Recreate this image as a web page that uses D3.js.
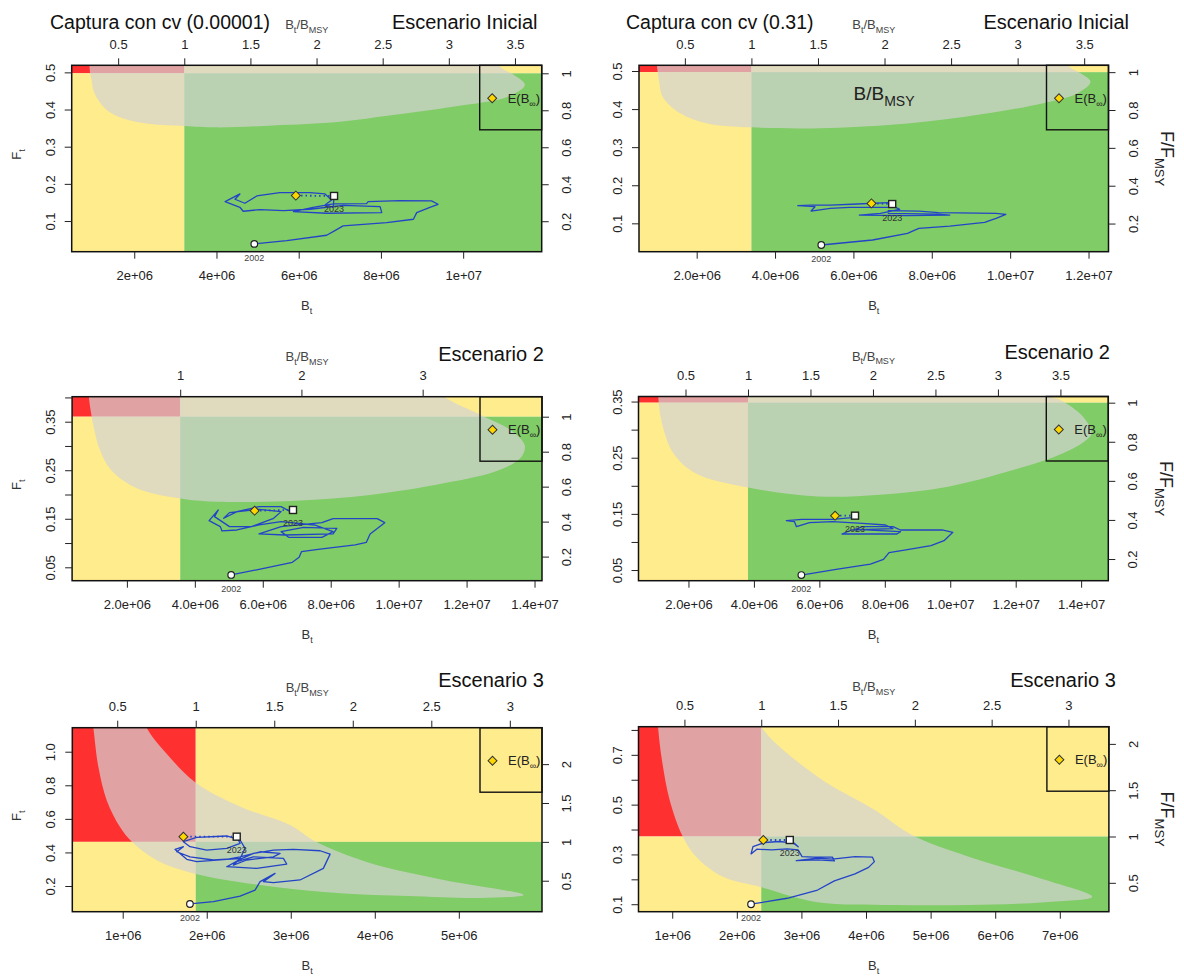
<!DOCTYPE html>
<html>
<head>
<meta charset="utf-8">
<script src="https://cdn.jsdelivr.net/npm/d3@7"></script>
<style>
  body { margin: 0; background: #fff; }
  svg text { font-family: "Liberation Sans", Arial, sans-serif; }
</style>
</head>
<body>
<div id="chart"></div>
<script>
// Reference points per panel (biomass in millions of t)
const bmsy = [3.217, 3.397, 3.569, 3.819, 1.869, 2.378];
const fmsy = [0.4975, 0.497, 0.3603, 0.348, 0.463, 0.372];
const bLims = [[0.479, 11.91], [0.528, 12.51], [0.387, 14.22], [0.473, 14.83], [0.40, 5.99], [0.478, 7.76]];
const fLims = [[0.0175, 0.519], [0.0255, 0.515], [0.0224, 0.4015], [0.031, 0.359], [0.047, 1.143], [0.070, 0.813]];

// Tick values and labels
const bTicks = [[2, 4, 6, 8, 10], [2, 4, 6, 8, 10, 12], [2, 4, 6, 8, 10, 12, 14], [2, 4, 6, 8, 10, 12, 14], [1, 2, 3, 4, 5], [1, 2, 3, 4, 5, 6, 7]];
const bTickLabels = [
  ["2e+06", "4e+06", "6e+06", "8e+06", "1e+07"],
  ["2.0e+06", "4.0e+06", "6.0e+06", "8.0e+06", "1.0e+07", "1.2e+07"],
  ["2.0e+06", "4.0e+06", "6.0e+06", "8.0e+06", "1.0e+07", "1.2e+07", "1.4e+07"],
  ["2.0e+06", "4.0e+06", "6.0e+06", "8.0e+06", "1.0e+07", "1.2e+07", "1.4e+07"],
  ["1e+06", "2e+06", "3e+06", "4e+06", "5e+06"],
  ["1e+06", "2e+06", "3e+06", "4e+06", "5e+06", "6e+06", "7e+06"]
];
const bRatioTicks = [[0.5, 1, 1.5, 2, 2.5, 3, 3.5], [0.5, 1, 1.5, 2, 2.5, 3, 3.5], [1, 2, 3], [0.5, 1, 1.5, 2, 2.5, 3, 3.5], [0.5, 1, 1.5, 2, 2.5, 3], [0.5, 1, 1.5, 2, 2.5, 3]];
const fTicks = [
  [0.1, 0.2, 0.3, 0.4, 0.5],
  [0.1, 0.2, 0.3, 0.4, 0.5],
  [0.05, 0.1, 0.15, 0.2, 0.25, 0.3, 0.35, 0.4],
  [0.05, 0.1, 0.15, 0.2, 0.25, 0.3, 0.35],
  [0.2, 0.4, 0.6, 0.8, 1.0],
  [0.1, 0.2, 0.3, 0.4, 0.5, 0.6, 0.7, 0.8]
];
const fTickLabels = [
  ["0.1", "0.2", "0.3", "0.4", "0.5"],
  ["0.1", "0.2", "0.3", "0.4", "0.5"],
  ["0.05", "", "0.15", "", "0.25", "", "0.35", ""],
  ["0.05", "", "0.15", "", "0.25", "", "0.35"],
  ["0.2", "0.4", "0.6", "0.8", "1.0"],
  ["0.1", "", "0.3", "", "0.5", "", "0.7", ""]
];
const fRatioTicks = [[0.2, 0.4, 0.6, 0.8, 1], [0.2, 0.4, 0.6, 0.8, 1], [0.2, 0.4, 0.6, 0.8, 1], [0.2, 0.4, 0.6, 0.8, 1], [0.5, 1, 1.5, 2], [0.5, 1, 1.5, 2]];

const scenarioTitles = ["Escenario Inicial", "Escenario Inicial", "Escenario 2", "Escenario 2", "Escenario 3", "Escenario 3"];
const columnTitles = ["Captura con cv (0.00001)", "Captura con cv (0.31)"];
const firstYear = "2002", lastYear = "2023";

// Confidence regions [B, F]
const ci1 = [[0.9, 0.6], [0.924, 0.5], [0.965, 0.479], [1.005, 0.452], [1.126, 0.4255], [1.33, 0.399], [1.73, 0.376], [2.38, 0.361], [3.22, 0.356], [4.0, 0.352], [5.38, 0.357], [7.0, 0.367], [8.29, 0.385], [10.03, 0.412], [11.07, 0.434], [11.5, 0.466], [11.24, 0.493], [10.9, 0.515], [10.5, 0.6]];
const ci2 = [[0.95, 0.6], [0.989, 0.511], [1.038, 0.476], [1.136, 0.432], [1.58, 0.389], [2.27, 0.3624], [3.4, 0.352], [4.92, 0.3493], [6.89, 0.358], [8.85, 0.38], [10.82, 0.415], [11.71, 0.441], [12.05, 0.472], [11.8, 0.494], [11.51, 0.511], [11.0, 0.6]];
const ci3 = [[0.85, 0.45], [0.879, 0.4016], [1.042, 0.333], [1.205, 0.292], [1.532, 0.2505], [2.295, 0.213], [3.569, 0.192], [4.8, 0.185], [6.978, 0.187], [9.156, 0.199], [11.33, 0.223], [12.97, 0.2505], [13.62, 0.278], [13.71, 0.302], [13.29, 0.333], [12.42, 0.364], [11.33, 0.4016], [10.5, 0.45]];
const ci4 = [[1.05, 0.4], [1.075, 0.359], [1.19, 0.3115], [1.54, 0.258], [2.23, 0.222], [3.82, 0.197], [5.94, 0.181], [7.85, 0.184], [9.89, 0.198], [11.92, 0.228], [13.45, 0.258], [14.17, 0.282], [14.32, 0.294], [14.06, 0.323], [13.35, 0.353], [13.05, 0.359], [12.5, 0.4]];
const ci5 = [[0.62, 1.25], [0.65, 1.143], [0.71, 0.91], [0.81, 0.71], [0.97, 0.55], [1.11, 0.463], [1.4, 0.355], [1.87, 0.272], [2.79, 0.196], [3.59, 0.157], [4.4, 0.14], [5.27, 0.129], [5.77, 0.147], [4.82, 0.236], [3.94, 0.337], [3.3, 0.463], [2.99, 0.563], [2.4, 0.672], [1.87, 0.815], [1.52, 0.99], [1.285, 1.143], [1.22, 1.25]];
const ci6 = [[0.76, 0.9], [0.78, 0.813], [0.84, 0.68], [0.96, 0.519], [1.16, 0.374], [1.37, 0.291], [1.78, 0.211], [2.38, 0.168], [3.25, 0.108], [4.42, 0.097], [5.59, 0.097], [6.77, 0.108], [7.5, 0.13], [6.77, 0.198], [5.59, 0.291], [4.71, 0.378], [4.13, 0.479], [3.25, 0.612], [2.38, 0.813], [2.3, 0.9]];

// Estimated trajectories 2002-2023 [B, F]
const traj1 = [[4.92, 0.0385], [5.71, 0.0474], [6.68, 0.0618], [6.88, 0.0743], [7.08, 0.0869], [8.14, 0.0958], [8.79, 0.1048], [8.87, 0.1227], [9.19, 0.137], [9.39, 0.1451], [9.23, 0.1541], [8.46, 0.155], [7.69, 0.1523], [7.65, 0.1469], [6.84, 0.146], [6.35, 0.137], [5.87, 0.1254], [6.68, 0.1209], [8.02, 0.1227], [7.98, 0.1388], [7.08, 0.1424], [6.27, 0.1317], [5.63, 0.1281], [5.06, 0.1308], [4.65, 0.1263], [4.57, 0.137], [4.21, 0.1523], [4.57, 0.1729], [4.45, 0.1586], [4.69, 0.1478], [4.98, 0.1675], [5.54, 0.1765], [6.27, 0.1765], [6.64, 0.1729], [6.8, 0.1568], [6.64, 0.1433], [6.84, 0.137], [6.86, 0.1675]];
const traj2 = [[5.18, 0.0431], [6.49, 0.0562], [7.38, 0.0737], [7.67, 0.0868], [8.46, 0.0929], [9.35, 0.1025], [9.64, 0.1131], [9.89, 0.1236], [9.64, 0.1262], [8.17, 0.1279], [7.67, 0.1323], [6.89, 0.1332], [6.89, 0.1262], [8.17, 0.1244], [8.46, 0.1218], [7.38, 0.12], [6.15, 0.1218], [6.69, 0.1262], [7.18, 0.1367], [7.08, 0.1419], [5.9, 0.1419], [5.41, 0.1393], [4.92, 0.1323], [5.02, 0.1437], [4.58, 0.1463], [4.92, 0.148], [5.41, 0.148], [6.1, 0.1507], [6.89, 0.1542], [6.99, 0.1507]];
const traj3 = [[5.07, 0.0342], [5.89, 0.0459], [6.87, 0.0603], [7.07, 0.0706], [7.14, 0.0823], [7.63, 0.0871], [8.72, 0.096], [9.05, 0.1015], [9.16, 0.1187], [9.59, 0.142], [9.37, 0.1503], [8.07, 0.1503], [7.74, 0.142], [6.54, 0.1338], [5.89, 0.1187], [6.65, 0.1166], [8.07, 0.1187], [8.18, 0.1304], [7.2, 0.1324], [6.54, 0.1235], [6.76, 0.1118], [7.74, 0.1118], [8.07, 0.1235], [7.52, 0.1372], [6.54, 0.1441], [5.89, 0.1372], [5.24, 0.1269], [4.8, 0.1249], [4.75, 0.1338], [4.42, 0.1461], [4.69, 0.1681], [4.58, 0.1544], [5.02, 0.1338], [5.67, 0.1338], [6.32, 0.151], [6.54, 0.1647], [5.89, 0.1695], [5.02, 0.1626], [4.85, 0.151], [5.24, 0.1647], [5.89, 0.175], [6.54, 0.175], [6.81, 0.1647], [6.89, 0.1681]];
const traj4 = [[5.45, 0.0411], [6.51, 0.0512], [7.56, 0.0607], [7.96, 0.069], [8.13, 0.0809], [8.6, 0.0856], [9.41, 0.0934], [9.81, 0.1023], [10.08, 0.1171], [9.75, 0.1213], [8.48, 0.1213], [8.25, 0.1272], [7.32, 0.1272], [7.09, 0.1225], [8.48, 0.1183], [8.37, 0.1142], [6.69, 0.1142], [6.98, 0.1213], [8.25, 0.1237], [8.02, 0.1302], [7.32, 0.1332], [6.4, 0.1361], [5.7, 0.1344], [5.3, 0.1272], [5.24, 0.1361], [4.99, 0.1379], [5.47, 0.1403], [6.4, 0.1403], [7.09, 0.1439], [7.09, 0.1468]];
const traj5 = [[1.8, 0.093], [2.08, 0.107], [2.397, 0.14], [2.575, 0.176], [2.635, 0.226], [2.813, 0.275], [2.674, 0.226], [2.793, 0.22], [3.11, 0.236], [3.388, 0.305], [3.468, 0.39], [3.349, 0.41], [3.031, 0.418], [2.793, 0.414], [2.555, 0.394], [2.397, 0.359], [2.238, 0.315], [2.595, 0.305], [2.952, 0.331], [2.912, 0.365], [2.555, 0.374], [2.357, 0.345], [2.317, 0.325], [2.476, 0.355], [2.793, 0.374], [2.873, 0.394], [2.635, 0.404], [2.397, 0.374], [2.238, 0.359], [1.881, 0.345], [1.762, 0.359], [1.682, 0.394], [1.623, 0.418], [1.722, 0.434], [1.643, 0.404], [1.801, 0.374], [2.079, 0.355], [2.397, 0.364], [2.456, 0.424], [2.397, 0.474], [2.238, 0.498], [1.881, 0.49], [1.722, 0.464], [1.801, 0.434], [1.999, 0.414], [2.238, 0.424], [2.397, 0.454], [2.357, 0.494]];
const traj6 = [[2.22, 0.1], [2.78, 0.124], [3.25, 0.157], [3.51, 0.194], [3.83, 0.222], [4.04, 0.248], [4.13, 0.271], [4.1, 0.289], [3.83, 0.291], [3.48, 0.281], [3.25, 0.285], [2.92, 0.275], [3.25, 0.278], [3.51, 0.274], [3.48, 0.289], [3.19, 0.289], [3.01, 0.291], [2.95, 0.318], [2.78, 0.322], [2.54, 0.318], [2.31, 0.321], [2.22, 0.302], [2.25, 0.331], [2.43, 0.348], [2.66, 0.352], [2.89, 0.345], [2.95, 0.331], [2.84, 0.352], [2.82, 0.358]];

// Forecast points (yellow diamonds)
const forecast = [[5.93, 0.1684], [6.46, 0.1524], [5.76, 0.1667], [6.48, 0.1468], [1.722, 0.494], [2.41, 0.358]];

const ciRegions = [ci1, ci2, ci3, ci4, ci5, ci6];
const trajectories = [traj1, traj2, traj3, traj4, traj5, traj6];

// Layout of the six panels: [left, right, top, bottom]
const boxes = [
  [71.7, 541.7, 65.3, 251.7],
  [639, 1108.5, 65.3, 251.7],
  [72.1, 542, 396.7, 580.7],
  [638.5, 1108.3, 396.5, 580.7],
  [72.3, 542, 727.7, 911.7],
  [638.5, 1108.9, 726.7, 911.7]
];
const titleSpots = [[537.5, 28.5], [1129, 28.5], [543.8, 361], [1110, 359], [543.8, 687], [1115.8, 686.5]];
const captureSpots = [[50, 28.5], [626, 28.5]];

const RED = "#ff3030", YELLOW = "#ffec8c", GREEN = "#80cc66";
const BLUE = "#2444c8";
const INK = "#222";

const svg = d3.select("#chart").append("svg")
  .attr("width", 1184)
  .attr("height", 977);

// text with subscripts: parts = [[string, isSub], ...]
function richText(parent, parts, size, subSize) {
  const t = parent.append("text").attr("font-size", size).attr("fill", INK);
  let prev = false;
  parts.forEach(([s, isSub]) => {
    const ts = t.append("tspan").text(s);
    if (isSub) ts.attr("font-size", subSize);
    const shift = (isSub ? 1 : 0) - (prev ? 1 : 0);
    if (shift) ts.attr("dy", shift * size * 0.3);
    prev = isSub;
  });
  return t;
}

function styleAxis(g) {
  g.select(".domain").remove();
  g.attr("font-family", "Liberation Sans, Arial, sans-serif").attr("font-size", 13);
  g.selectAll(".tick line").attr("stroke", INK);
  g.selectAll(".tick text").attr("fill", INK);
}

boxes.forEach((b, i) => {
  const [x0, x1, y0, y1] = b;
  const x = d3.scaleLinear().domain(bLims[i]).range([x0, x1]);
  const y = d3.scaleLinear().domain(fLims[i]).range([y1, y0]);
  const xr = d3.scaleLinear().domain(bLims[i].map(v => v / bmsy[i])).range([x0, x1]);
  const yr = d3.scaleLinear().domain(fLims[i].map(v => v / fmsy[i])).range([y1, y0]);

  svg.append("clipPath").attr("id", "clip" + i)
    .append("rect")
    .attr("x", x0).attr("y", y0)
    .attr("width", x1 - x0).attr("height", y1 - y0);

  const plot = svg.append("g").attr("clip-path", `url(#clip${i})`);

  // Kobe quadrants
  const [bl, bh] = bLims[i];
  const [fl, fh] = fLims[i];
  const quads = [
    { b: [bl, bmsy[i]], f: [fmsy[i], fh], c: RED },
    { b: [bl, bmsy[i]], f: [fl, fmsy[i]], c: YELLOW },
    { b: [bmsy[i], bh], f: [fmsy[i], fh], c: YELLOW },
    { b: [bmsy[i], bh], f: [fl, fmsy[i]], c: GREEN }
  ];
  plot.selectAll("rect.zone")
    .data(quads)
    .join("rect")
    .attr("class", "zone")
    .attr("x", d => x(d.b[0]))
    .attr("width", d => x(d.b[1]) - x(d.b[0]))
    .attr("y", d => y(d.f[1]))
    .attr("height", d => y(d.f[0]) - y(d.f[1]))
    .attr("fill", d => d.c);

  // confidence region
  const ciLine = d3.line()
    .x(d => x(d[0]))
    .y(d => y(d[1]))
    .curve(d3.curveCatmullRom.alpha(0.5));
  plot.append("path")
    .attr("d", ciLine(ciRegions[i]) + "Z")
    .attr("fill", "#d3d3d3")
    .attr("fill-opacity", 0.7);

  // trajectory
  const tr = trajectories[i];
  const trLine = d3.line().x(d => x(d[0])).y(d => y(d[1]));
  plot.append("path")
    .attr("d", trLine(tr))
    .attr("fill", "none")
    .attr("stroke", BLUE)
    .attr("stroke-width", 1.3)
    .attr("stroke-linejoin", "round");

  const last = tr[tr.length - 1];
  plot.append("path")
    .attr("d", trLine([last, forecast[i]]))
    .attr("stroke", BLUE)
    .attr("stroke-width", 1.8)
    .attr("stroke-dasharray", "1.5,3")
    .attr("fill", "none");

  // year labels
  svg.append("text")
    .attr("x", x(tr[0][0])).attr("y", y(tr[0][1]) + 17)
    .attr("text-anchor", "middle").attr("font-size", 9).attr("fill", "#444")
    .text(firstYear);
  svg.append("text")
    .attr("x", x(last[0])).attr("y", y(last[1]) + 16.5)
    .attr("text-anchor", "middle").attr("font-size", 9).attr("fill", "#333")
    .text(lastYear);

  // start, end and forecast markers
  plot.append("circle")
    .attr("cx", x(tr[0][0])).attr("cy", y(tr[0][1])).attr("r", 3.3)
    .attr("fill", "#fff").attr("stroke", INK).attr("stroke-width", 1.2);
  plot.append("rect")
    .attr("x", x(last[0]) - 3.5).attr("y", y(last[1]) - 3.5)
    .attr("width", 7).attr("height", 7)
    .attr("fill", "#fff").attr("stroke", INK).attr("stroke-width", 1.4);
  plot.append("path")
    .attr("d", d3.symbol(d3.symbolSquare, 40)())
    .attr("transform", `translate(${x(forecast[i][0])},${y(forecast[i][1])}) rotate(45)`)
    .attr("fill", "#ffd700").attr("stroke", "#333").attr("stroke-width", 1);

  // legend box with E(B_inf)
  const lg = svg.append("g").attr("transform", `translate(${x1 - 62},${y0})`);
  lg.append("rect")
    .attr("width", 62).attr("height", 64.5)
    .attr("fill", "none").attr("stroke", "#111").attr("stroke-width", 1.4);
  lg.append("path")
    .attr("d", d3.symbol(d3.symbolSquare, 40)())
    .attr("transform", "translate(12.5,33) rotate(45)")
    .attr("fill", "#ffd700").attr("stroke", "#333").attr("stroke-width", 1);
  richText(lg, [["E(B", false], ["\u221E", true], [")", false]], 13, 9)
    .attr("x", 28).attr("y", 37.5);

  // frame
  svg.append("rect")
    .attr("x", x0).attr("y", y0)
    .attr("width", x1 - x0).attr("height", y1 - y0)
    .attr("fill", "none").attr("stroke", "#111").attr("stroke-width", 1.5);

  // axes
  svg.append("g")
    .attr("transform", `translate(0,${y1})`)
    .call(d3.axisBottom(x).tickValues(bTicks[i]).tickFormat((d, k) => bTickLabels[i][k]).tickSize(7))
    .call(styleAxis)
    .selectAll(".tick text").attr("y", 28.5).attr("dy", 0);

  svg.append("g")
    .attr("transform", `translate(0,${y0})`)
    .call(d3.axisTop(xr).tickValues(bRatioTicks[i]).tickFormat(d => String(d)).tickSize(7))
    .call(styleAxis)
    .selectAll(".tick text").attr("y", -16.5).attr("dy", 0);

  svg.append("g")
    .attr("transform", `translate(${x0},0)`)
    .call(d3.axisLeft(y).tickValues(fTicks[i]).tickFormat((d, k) => fTickLabels[i][k]).tickSize(7))
    .call(styleAxis)
    .selectAll(".tick text")
    .attr("x", 0).attr("y", 0).attr("dy", 0)
    .attr("text-anchor", "middle")
    .attr("transform", "translate(-17,0) rotate(-90)");

  svg.append("g")
    .attr("transform", `translate(${x1},0)`)
    .call(d3.axisRight(yr).tickValues(fRatioTicks[i]).tickFormat(d => String(d)).tickSize(7))
    .call(styleAxis)
    .selectAll(".tick text")
    .attr("x", 0).attr("y", 0).attr("dy", 0)
    .attr("text-anchor", "middle")
    .attr("transform", "translate(29,0) rotate(-90)");

  // axis titles
  const cx = (x0 + x1) / 2;
  richText(svg, [["B", false], ["t", true]], 13, 9)
    .attr("x", cx).attr("y", y1 + 58).attr("text-anchor", "middle").attr("fill", "#333");
  richText(svg, [["B", false], ["t", true], ["/B", false], ["MSY", true]], 13, 9)
    .attr("x", cx).attr("y", y0 - 36).attr("text-anchor", "middle").attr("fill", "#444");

  if (i % 2 === 0) {
    richText(svg, [["F", false], ["t", true]], 13, 9)
      .attr("text-anchor", "middle")
      .attr("transform", `translate(21,${(y0 + y1) / 2 - 4}) rotate(-90)`)
      .attr("fill", "#333");
  } else {
    richText(svg, [["F/F", false], ["MSY", true]], 18, 13)
      .attr("text-anchor", "middle")
      .attr("transform", `translate(${x1 + 52},${(y0 + y1) / 2}) rotate(90)`);
  }

  // titles
  svg.append("text")
    .attr("x", titleSpots[i][0]).attr("y", titleSpots[i][1])
    .attr("text-anchor", "end").attr("font-size", 20).attr("fill", "#111")
    .text(scenarioTitles[i]);
  if (i < 2) {
    svg.append("text")
      .attr("x", captureSpots[i][0]).attr("y", captureSpots[i][1])
      .attr("font-size", 19.5).attr("fill", "#111")
      .text(columnTitles[i]);
  }
});

// annotation inside the top-right panel
richText(svg, [["B/B", false], ["MSY", true]], 19, 14)
  .attr("x", 853.5).attr("y", 100);
</script>
</body>
</html>
